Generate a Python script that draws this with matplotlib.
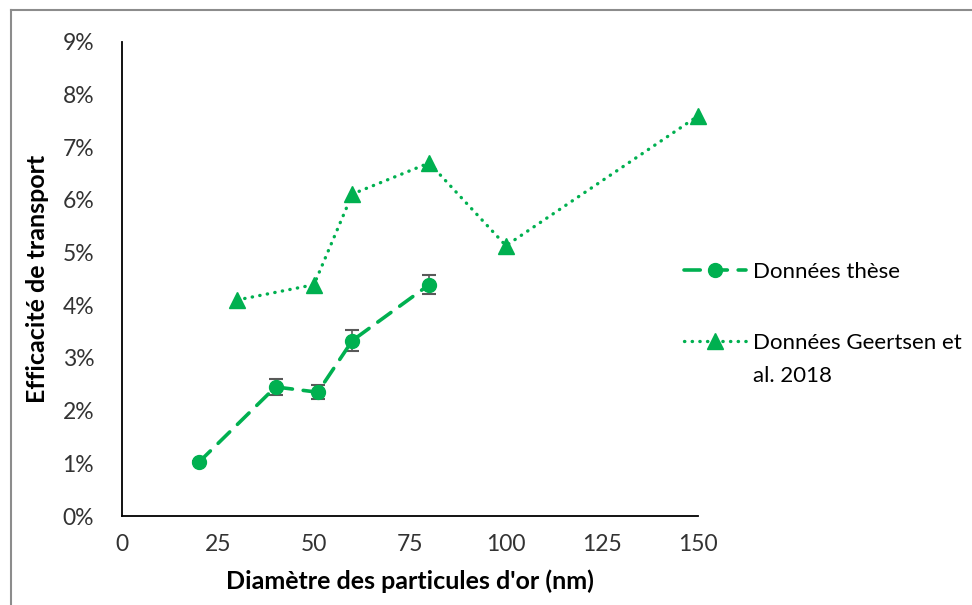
import matplotlib
matplotlib.use("Agg")
import matplotlib.pyplot as plt
from matplotlib.ticker import FuncFormatter
from matplotlib.lines import Line2D

plt.rcParams['font.family'] = ['Lato', 'DejaVu Sans']

# Données thèse
these_x = [20, 40, 51, 60, 80]
these_y = [1.02, 2.45, 2.35, 3.33, 4.39]
these_err = [0.02, 0.16, 0.13, 0.20, 0.18]

# Données Geertsen et al. 2018
geertsen_x = [30, 50, 60, 80, 100, 150]
geertsen_y = [4.10, 4.39, 6.11, 6.70, 5.13, 7.59]

green = '#00B050'

fig = plt.figure(figsize=(9.72, 6.05), dpi=100)
ax = fig.add_axes([0.1255, 0.147, 0.5925, 0.784])

# chart border (only top and left visible)
fig.add_artist(Line2D([10.5/972, 10.5/972], [0, 1 - 9.5/605], transform=fig.transFigure, color='#8c8c8c', lw=1.5))
fig.add_artist(Line2D([10.5/972, 1], [1 - 9.5/605, 1 - 9.5/605], transform=fig.transFigure, color='#8c8c8c', lw=1.5))

ax.errorbar(these_x, these_y, yerr=these_err, fmt='none', ecolor='#595959', elinewidth=1.2, capsize=5, capthick=1.5, zorder=2)
l1, = ax.plot(these_x, these_y, color=green, lw=2.6, dashes=(4.5, 3), dash_capstyle='round',
              marker='o', markersize=10, label='Données thèse', zorder=3, clip_on=False)
l2, = ax.plot(geertsen_x, geertsen_y, color=green, lw=2.4, dashes=(0.1, 2.2), dash_capstyle='round',
              marker='^', markersize=11, label='Données Geertsen et', zorder=3, clip_on=False)

ax.set_xlim(0, 150)
ax.set_ylim(0, 9)
ax.set_xticks([0, 25, 50, 75, 100, 125, 150])
ax.set_yticks(range(0, 10))
ax.yaxis.set_major_formatter(FuncFormatter(lambda v, p: f'{int(v)}%'))
ax.tick_params(length=0, labelsize=16.5, labelcolor='#333333')
ax.tick_params(axis='x', pad=13)
ax.tick_params(axis='y', pad=20)

ax.spines['top'].set_visible(False)
ax.spines['right'].set_visible(False)
ax.spines['left'].set_linewidth(1.3)
ax.spines['bottom'].set_linewidth(1.3)

ax.set_xlabel("Diamètre des particules d'or (nm)", fontsize=18, fontweight='bold', labelpad=10)
ax.set_ylabel('Efficacité de transport', fontsize=18, fontweight='bold', labelpad=10)

leg = fig.legend(handles=[l1, l2], loc='upper left', bbox_to_anchor=(0.683, 0.6),
                 frameon=False, fontsize=16, handlelength=2.8, labelspacing=2.3, handletextpad=0.3)

# second line of the Geertsen label, under the first one
fig.canvas.draw()
bb = leg.get_texts()[1].get_window_extent().transformed(fig.transFigure.inverted())
fig.text(bb.x0, bb.y0 - 0.022, 'al. 2018', fontsize=16, va='top', ha='left', color='black')

fig.savefig('out.png', dpi=100)
